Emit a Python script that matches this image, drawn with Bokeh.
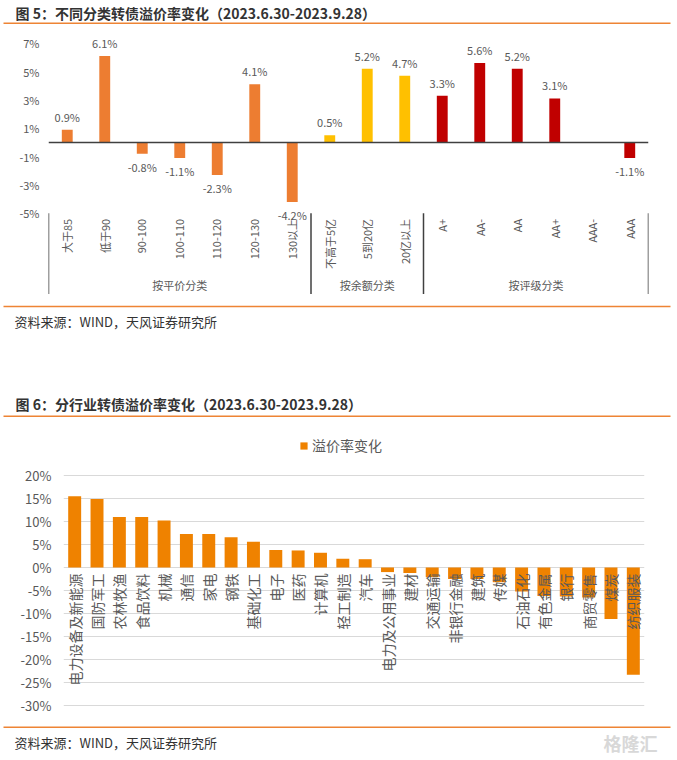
import numpy as np
from bokeh.plotting import figure
from bokeh.layouts import column
from bokeh.models import Range1d, FactorRange, ColumnDataSource, FixedTicker, PrintfTickFormatter, Span
from bokeh.core.properties import value
from bokeh.embed import file_html
from bokeh.resources import INLINE

FONT = "Noto Sans CJK SC"
GRAY = "#595959"
ORANGE_LINE = "#EE8434"
W = 672

# ---------------- data: chart 5 ----------------
c1_categories = ["大于85", "低于90", "90-100", "100-110", "110-120", "120-130", "130以上",
                 "不高于5亿", "5到20亿", "20亿以上",
                 "A+", "AA-", "AA", "AA+", "AAA-", "AAA"]
c1_values = [0.9, 6.1, -0.8, -1.1, -2.3, 4.1, -4.2,
             0.5, 5.2, 4.7,
             3.3, 5.6, 5.2, 3.1, None, -1.1]
c1_group_names = ["按平价分类", "按余额分类", "按评级分类"]
c1_group_sizes = [7, 3, 6]
c1_group_colors = ["#ED7D31", "#FFC000", "#C00000"]
c1_ticks = [-5, -3, -1, 1, 3, 5, 7]

# ---------------- data: chart 6 ----------------
c2_categories = ["电力设备及新能源", "国防军工", "农林牧渔", "食品饮料", "机械", "通信", "家电",
                 "钢铁", "基础化工", "电子", "医药", "计算机", "轻工制造", "汽车",
                 "电力及公用事业", "建材", "交通运输", "非银行金融", "建筑", "传媒",
                 "石油石化", "有色金属", "银行", "商贸零售", "煤炭", "纺织服装"]
c2_values = [15.5, 14.9, 11.0, 11.0, 10.2, 7.3, 7.3, 6.6, 5.6, 3.8, 3.7, 3.2, 1.9, 1.8,
             -1.0, -1.2, -2.1, -2.5, -2.5, -3.2, -5.2, -6.2, -6.3, -6.5, -11.2, -23.3]
c2_series = "溢价率变化"
c2_ticks = [-30, -25, -20, -15, -10, -5, 0, 5, 10, 15, 20]

title1 = "图 5：不同分类转债溢价率变化（2023.6.30-2023.9.28）"
title2 = "图 6：分行业转债溢价率变化（2023.6.30-2023.9.28）"
source_text = "资料来源：WIND，天风证券研究所"


def deco(height):
    f = figure(width=W, height=height, x_range=Range1d(0, W), y_range=Range1d(height, 0),
               min_border_left=0, min_border_right=0, min_border_top=0, min_border_bottom=0,
               toolbar_location=None, output_backend="svg", x_axis_location=None,
               y_axis_location=None, outline_line_color=None, title=None, frame_align=False)
    f.grid.visible = False
    f.background_fill_color = "white"
    f.border_fill_color = "white"
    return f


def hline(f, y):
    f.line(x=[3, 670], y=[y, y], line_color=ORANGE_LINE, line_width=1.5)


def txt(f, x, y, s, size, bold=False, color=GRAY):
    f.text(x=[x], y=[y], text=[s], text_font=value(FONT), text_font_size=size,
           text_font_style="bold" if bold else "normal", text_color=color,
           text_align="left", text_baseline="middle")


# ---------- title 1 ----------
t1 = deco(26)
txt(t1, 15, 12, title1, "14px", bold=True, color="#333333")
hline(t1, 22.7)

# ---------- chart 1 ----------
colors = []
for c, n in zip(c1_group_colors, c1_group_sizes):
    colors += [c] * n

p1 = figure(width=W, height=274, x_range=FactorRange(*c1_categories, range_padding=0),
            y_range=Range1d(-11.16, 8.18),
            min_border_left=48, min_border_right=W - 648, min_border_top=0, min_border_bottom=0,
            toolbar_location=None, output_backend="svg", x_axis_location=None,
            outline_line_color=None, title=None, frame_align=False)
p1.grid.visible = False
p1.yaxis.ticker = FixedTicker(ticks=c1_ticks)
p1.yaxis.formatter = PrintfTickFormatter(format="%d%%")
p1.yaxis.axis_line_color = None
p1.yaxis.major_tick_line_color = None
p1.yaxis.minor_tick_line_color = None
p1.yaxis.major_tick_in = 0
p1.yaxis.major_tick_out = 0
p1.yaxis.major_label_standoff = 9
p1.yaxis.major_label_text_font = FONT
p1.yaxis.major_label_text_font_size = "11px"
p1.yaxis.major_label_text_color = GRAY

bx, bt, bc = [], [], []
for cat, v, col in zip(c1_categories, c1_values, colors):
    if v is not None:
        bx.append(cat); bt.append(v); bc.append(col)
src1 = ColumnDataSource(dict(x=bx, top=bt, color=bc))
p1.vbar(x="x", top="top", bottom=0, width=0.29, fill_color="color", line_color=None, source=src1)
p1.add_layout(Span(location=0, dimension="width", line_color="#404040", line_width=1.5))

pos = ColumnDataSource(dict(x=[x for x, t in zip(bx, bt) if t >= 0], y=[t for t in bt if t >= 0],
                            lab=[f"{t:.1f}%" for t in bt if t >= 0]))
neg = ColumnDataSource(dict(x=[x for x, t in zip(bx, bt) if t < 0], y=[t for t in bt if t < 0],
                            lab=[f"{t:.1f}%" for t in bt if t < 0]))
p1.text(x="x", y="y", text="lab", source=pos, text_align="center", text_baseline="bottom",
        y_offset=-5, text_font=value(FONT), text_font_size="11px", text_color=GRAY)
p1.text(x="x", y="y", text="lab", source=neg, text_align="center", text_baseline="top",
        y_offset=5, text_font=value(FONT), text_font_size="11px", text_color=GRAY)

# category labels
p1.text(x=c1_categories, y=[-5.4] * len(c1_categories), text=c1_categories, angle=np.pi / 2,
        text_align="right", text_baseline="middle", text_font=value(FONT),
        text_font_size="11px", text_color=GRAY)
# group separators and names
bounds = np.concatenate([[0], np.cumsum(c1_group_sizes)])
for b in bounds:
    p1.line(x=[b, b], y=[-5.0, -10.7], line_color="#404040", line_width=1.5)
centers = [(bounds[i] + bounds[i + 1]) / 2 for i in range(len(c1_group_names))]
p1.text(x=centers, y=[-10.1] * 3, text=c1_group_names, text_align="center",
        text_baseline="middle", text_font=value(FONT), text_font_size="11px", text_color=GRAY)

# ---------- source 1 + title 2 ----------
m = deco(130)
hline(m, 6)
txt(m, 14, 21, source_text, "13px", color="#333333")
txt(m, 15, 103, title2, "14px", bold=True, color="#333333")
hline(m, 115.7)

# ---------- chart 2 ----------
p2 = figure(width=W, height=288, x_range=FactorRange(*c2_categories, range_padding=0),
            y_range=Range1d(-32.83, 29.78),
            min_border_left=63, min_border_right=W - 644, min_border_top=0, min_border_bottom=0,
            toolbar_location=None, output_backend="svg", x_axis_location=None,
            outline_line_color=None, title=None, frame_align=False)
p2.xgrid.visible = False
p2.ygrid.ticker = FixedTicker(ticks=c2_ticks)
p2.ygrid.grid_line_color = "#D9D9D9"
p2.ygrid.grid_line_width = 1.2
p2.yaxis.ticker = FixedTicker(ticks=c2_ticks)
p2.yaxis.formatter = PrintfTickFormatter(format="%d%%")
p2.yaxis.axis_line_color = None
p2.yaxis.major_tick_line_color = None
p2.yaxis.minor_tick_line_color = None
p2.yaxis.major_tick_in = 0
p2.yaxis.major_tick_out = 0
p2.yaxis.major_label_standoff = 12
p2.yaxis.major_label_text_font = FONT
p2.yaxis.major_label_text_font_size = "13px"
p2.yaxis.major_label_text_color = GRAY

src2 = ColumnDataSource(dict(x=c2_categories, top=c2_values))
p2.vbar(x="x", top="top", bottom=0, width=0.58, fill_color="#EF8200", line_color=None,
        source=src2, legend_label=c2_series)
p2.text(x=c2_categories, y=[-1.3] * len(c2_categories), text=c2_categories, angle=np.pi / 2,
        text_align="right", text_baseline="middle", text_font=value(FONT),
        text_font_size="14px", text_color=GRAY)
lg = p2.legend[0]
lg.location = (236, 263)
lg.orientation = "horizontal"
lg.border_line_color = None
lg.background_fill_alpha = 0
lg.padding = 0
lg.margin = 0
lg.glyph_width = 9
lg.glyph_height = 9
lg.label_standoff = 4
lg.label_text_font = FONT
lg.label_text_font_size = "14px"
lg.label_text_color = GRAY

# ---------- source 2 ----------
s2 = deco(36)
hline(s2, 8.7)
txt(s2, 14, 24, source_text, "13px", color="#333333")
txt(s2, 603, 24, "格隆汇", "18px", bold=True, color="#D8D8D8")

layout = column(t1, p1, m, p2, s2, spacing=0)
open("out.html", "w").write(file_html(layout, INLINE))
